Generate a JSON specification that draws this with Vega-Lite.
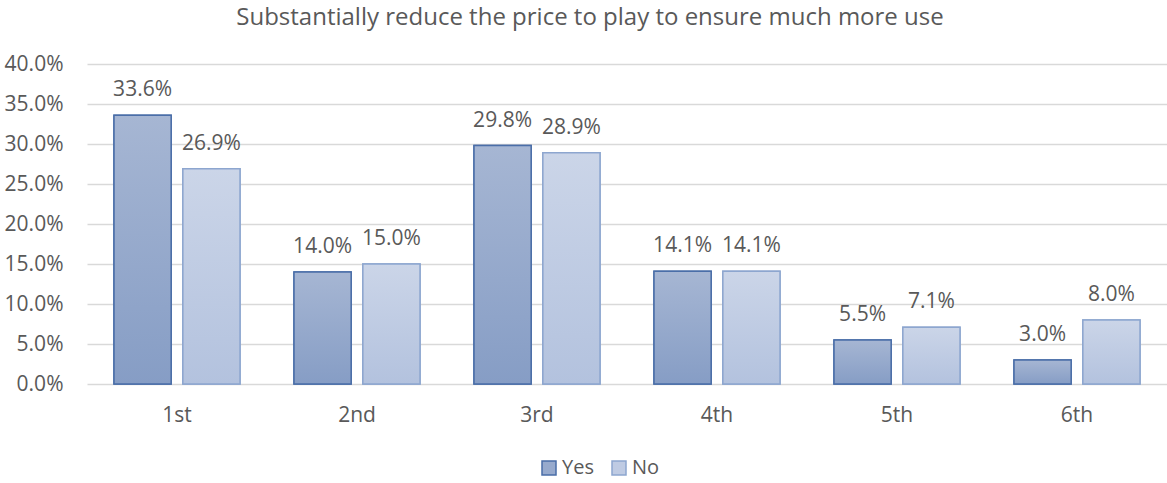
{
  "$schema": "https://vega.github.io/schema/vega-lite/v6.json",
  "width": 1080,
  "height": 320,
  "autosize": "none",
  "padding": {"left": 87, "top": 64, "right": 0, "bottom": 99},
  "title": {
    "text": "Substantially reduce the price to play to ensure much more use",
    "anchor": "middle",
    "dx": -37,
    "offset": 23,
    "fontSize": 24,
    "font": "Open Sans",
    "fontWeight": "normal",
    "color": "#595959"
  },
  "data": {
    "values": [
      {"rank": "1st", "series": "Yes", "value": 0.336},
      {"rank": "1st", "series": "No", "value": 0.269},
      {"rank": "2nd", "series": "Yes", "value": 0.140},
      {"rank": "2nd", "series": "No", "value": 0.150},
      {"rank": "3rd", "series": "Yes", "value": 0.298},
      {"rank": "3rd", "series": "No", "value": 0.289},
      {"rank": "4th", "series": "Yes", "value": 0.141},
      {"rank": "4th", "series": "No", "value": 0.141},
      {"rank": "5th", "series": "Yes", "value": 0.055},
      {"rank": "5th", "series": "No", "value": 0.071},
      {"rank": "6th", "series": "Yes", "value": 0.030},
      {"rank": "6th", "series": "No", "value": 0.080}
    ]
  },
  "encoding": {
    "x": {
      "field": "rank",
      "type": "nominal",
      "sort": null,
      "scale": {"paddingInner": 0.3, "paddingOuter": 0.15},
      "axis": {
        "title": null,
        "labelAngle": 0,
        "ticks": false,
        "domain": false,
        "labelPadding": 20,
        "labelFontSize": 21,
        "labelFont": "Open Sans",
        "labelColor": "#595959"
      }
    },
    "xOffset": {
      "field": "series",
      "type": "nominal",
      "sort": ["Yes", "No"],
      "scale": {"domain": ["Yes", "No"], "paddingInner": 0.17, "paddingOuter": 0}
    },
    "y": {
      "field": "value",
      "type": "quantitative",
      "scale": {"domain": [0, 0.4], "nice": false},
      "axis": {
        "title": null,
        "values": [0, 0.05, 0.1, 0.15, 0.2, 0.25, 0.3, 0.35, 0.4],
        "format": ".1%",
        "ticks": false,
        "domain": false,
        "labelPadding": 24,
        "labelFontSize": 21,
        "labelFont": "Open Sans",
        "labelColor": "#595959",
        "gridColor": "#d9d9d9",
        "gridWidth": 1.5
      }
    }
  },
  "layer": [
    {
      "mark": {"type": "bar", "strokeWidth": 1.5},
      "encoding": {
        "fill": {
          "field": "series",
          "type": "nominal",
          "sort": ["Yes", "No"],
          "scale": {"domain": ["Yes", "No"], "range": ["#97aacd", "#bfcbe3"]},
          "legend": {"title": null}
        },
        "stroke": {
          "field": "series",
          "type": "nominal",
          "sort": ["Yes", "No"],
          "scale": {"domain": ["Yes", "No"], "range": ["#4a6ea8", "#8da6cf"]},
          "legend": {"title": null}
        }
      }
    },
    {
      "mark": {"type": "bar", "strokeWidth": 1.5},
      "encoding": {
        "fill": {
          "condition": {
            "test": "datum.series === 'Yes'",
            "value": {
              "gradient": "linear", "x1": 0, "y1": 0, "x2": 0, "y2": 1,
              "stops": [{"offset": 0, "color": "#a6b6d3"}, {"offset": 1, "color": "#869dc5"}]
            }
          },
          "value": {
            "gradient": "linear", "x1": 0, "y1": 0, "x2": 0, "y2": 1,
            "stops": [{"offset": 0, "color": "#cbd5e8"}, {"offset": 1, "color": "#b3c2de"}]
          }
        },
        "stroke": {
          "condition": {"test": "datum.series === 'Yes'", "value": "#4a6ea8"},
          "value": "#8da6cf"
        }
      }
    },
    {
      "mark": {
        "type": "text",
        "baseline": "alphabetic",
        "dy": -19,
        "fontSize": 21,
        "font": "Open Sans",
        "color": "#595959"
      },
      "encoding": {
        "text": {"field": "value", "type": "quantitative", "format": ".1%"}
      }
    }
  ],
  "config": {
    "view": {"stroke": null},
    "legend": {
      "orient": "none",
      "direction": "horizontal",
      "legendX": 452,
      "legendY": 394,
      "labelFontSize": 20,
      "labelFont": "Open Sans",
      "labelColor": "#595959",
      "symbolType": "square",
      "symbolSize": 196,
      "symbolStrokeWidth": 1.5,
      "columnPadding": 15,
      "labelOffset": 3
    }
  }
}
